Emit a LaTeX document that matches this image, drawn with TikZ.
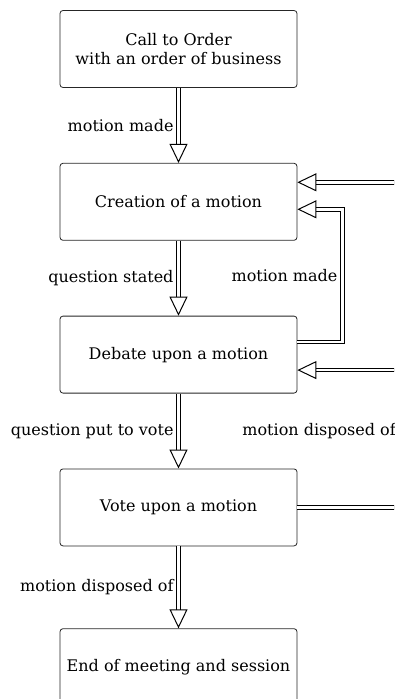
\documentclass[tikz,border=0pt]{standalone}
\usepackage{fontspec}
\setmainfont{DejaVu Serif}
\usetikzlibrary{positioning, arrows.meta}

\begin{document}
\begin{tikzpicture}[x=1pt, y=1pt,
    stage/.style={draw=black!85, rounded corners=3pt, line width=0.8pt,
      minimum width=237pt, minimum height=77pt, align=center,
      font=\fontsize{16}{19}\selectfont},
    link/.style={double, double distance=2.4pt, line width=1pt},
    flow/.style={link, -{Triangle[open, length=19pt, width=18pt]}},
    tag/.style={font=\fontsize{16}{19}\selectfont, inner xsep=4.5pt, inner ysep=1.5pt}]

  % Frame: the chart runs on past the right and bottom edges
  \useasboundingbox (-178.5,49) rectangle (215.5,-650);
  \clip (-178.5,49) rectangle (215.5,-650);
  \coordinate (edge) at (219,0);

  % Stages of the meeting
  \node[stage] (order) at (0,0) {Call to Order\\with an order of business};
  \node[stage, below=75pt of order] (creation) {Creation of a motion};
  \node[stage, below=75pt of creation] (debate) {Debate upon a motion};
  \node[stage, below=75pt of debate] (vote) {Vote upon a motion};
  \node[stage, below=82pt of vote] (finish) {End of meeting and session};

  % Main line down
  \draw[flow] (order) -- node[tag, left] {motion made} (creation);
  \draw[flow] (creation) -- node[tag, left] {question stated} (debate);
  \draw[flow] (debate) -- node[tag, left] {question put to vote} (vote);
  \draw[flow] (vote) -- node[tag, left] {motion disposed of} (finish);

  % Returns from the right
  \draw[flow] ([yshift=19.5pt]creation.east -| edge) -- ([yshift=19.5pt]creation.east);
  \draw[flow] ([yshift=12.5pt]debate.east) -| node[tag, left, pos=0.75] {motion made}
    ([xshift=45pt, yshift=-7.5pt]creation.east) -- ([yshift=-7.5pt]creation.east);
  \draw[flow] ([yshift=-15.5pt]debate.east -| edge) -- ([yshift=-15.5pt]debate.east);
  \draw[link] (vote.east) -- (vote.east -| edge);
  \node[tag, anchor=east, xshift=3pt] (disposed) at ([yshift=76pt]vote.center -| edge) {motion disposed of};

\end{tikzpicture}
\end{document}
